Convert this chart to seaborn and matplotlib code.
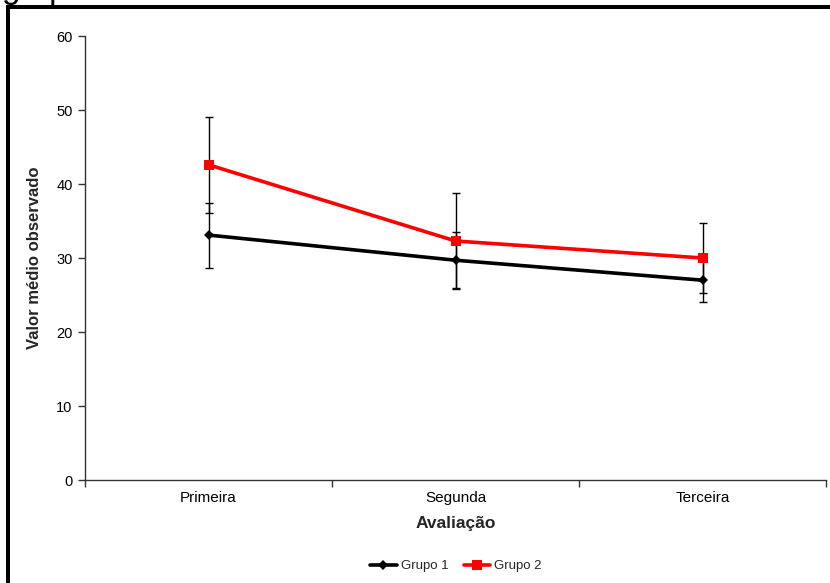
import numpy as np
import pandas as pd
import matplotlib
matplotlib.use("Agg")
import matplotlib.pyplot as plt
from matplotlib.patches import Rectangle
from matplotlib.ticker import FixedLocator, NullFormatter
import seaborn as sns

# Mean values and standard deviations per assessment
avaliacoes = ["Primeira", "Segunda", "Terceira"]
grupo1_media = [33.1, 29.7, 27.0]
grupo1_dp = [4.4, 3.8, 2.9]
grupo2_media = [42.6, 32.3, 30.0]
grupo2_dp = [6.5, 6.5, 4.7]
grupos = ["Grupo 1", "Grupo 2"]
y_ticks = [0, 10, 20, 30, 40, 50, 60]

sns.set_theme(style="white")
plt.rcParams["font.family"] = ["Liberation Sans", "DejaVu Sans"]

W, H, DPI = 830, 583, 100
fig = plt.figure(figsize=(W / DPI, H / DPI), dpi=DPI)
ax = fig.add_axes([85 / W, 1 - 480 / H, 741 / W, 444 / H])

pos = np.arange(len(avaliacoes))
df = pd.DataFrame({
    "pos": np.concatenate([pos, pos]),
    "valor": grupo1_media + grupo2_media,
    "grupo": [grupos[0]] * 3 + [grupos[1]] * 3,
})
cores = {"Grupo 1": "black", "Grupo 2": "#ff0000"}

# error bars first so the lines sit on top
for media, dp in ((grupo1_media, grupo1_dp), (grupo2_media, grupo2_dp)):
    ax.errorbar(pos, media, yerr=dp, fmt="none", ecolor="black",
                elinewidth=1.0, capsize=2.6, capthick=1.0, zorder=2)

sns.lineplot(data=df, x="pos", y="valor", hue="grupo", palette=cores,
             style="grupo", markers={"Grupo 1": "D", "Grupo 2": "s"},
             dashes=False, linewidth=2.6, markersize=7, markeredgewidth=0,
             ax=ax, zorder=3)
for ln in ax.lines:
    if ln.get_marker() == "s":
        ln.set_markersize(7)
    elif ln.get_marker() == "D":
        ln.set_markersize(5.5)

ax.set_xlim(-0.5, 2.5)
ax.set_ylim(0, 60)
ax.set_yticks(y_ticks)
ax.set_yticklabels([str(t) for t in y_ticks])
ax.xaxis.set_major_locator(FixedLocator([-0.5, 0.5, 1.5, 2.5]))
ax.xaxis.set_major_formatter(NullFormatter())
ax.xaxis.set_minor_locator(FixedLocator(pos))
ax.set_xticklabels(avaliacoes, minor=True)
ax.tick_params(axis="x", which="major", direction="out", length=5,
               width=1, color="#333333", bottom=True)
ax.tick_params(axis="x", which="minor", length=0, pad=8,
               labelsize=11, labelcolor="black")
ax.tick_params(axis="y", direction="out", length=5, width=1,
               color="#333333", left=True, labelsize=10.5, pad=4,
               labelcolor="black")
for s in ["top", "right"]:
    ax.spines[s].set_visible(False)
for s in ["left", "bottom"]:
    ax.spines[s].set_color("#333333")
    ax.spines[s].set_linewidth(1)

ax.set_xlabel("Avaliação", fontsize=12.5, fontweight="bold", labelpad=8)
ax.set_ylabel("Valor médio observado", fontsize=12, fontweight="bold",
              labelpad=10)

handles, labels = ax.get_legend_handles_labels()
ax.legend(handles, labels, loc="center", bbox_to_anchor=(456 / W, 1 - 566 / H),
          bbox_transform=fig.transFigure, ncol=2, frameon=False,
          fontsize=9.5, handlelength=2.0, columnspacing=1.2,
          handletextpad=0.3)

# outer chart frame, running past the right and bottom edges
fig.patches.append(Rectangle((8, -20), W + 40, H + 13,
                             transform=None, fill=False,
                             edgecolor="black", linewidth=4 * 72 / DPI,
                             zorder=10))

# caption text above the frame
fig.text(2 / W, 1 + 2 / H, "grupo", fontsize=24, va="baseline",
         ha="left", color="black")

fig.savefig("out.png", dpi=DPI)
